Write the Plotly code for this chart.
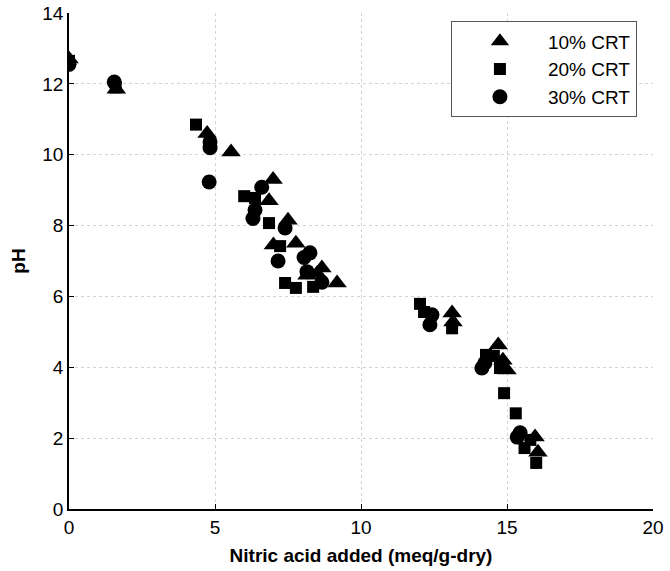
import plotly.graph_objects as go

# Data (x: nitric acid added meq/g-dry, y: pH)
x_10 = [0.0, 1.62, 4.73, 5.55, 6.99, 6.85, 7.5, 7.0, 7.77, 8.66, 8.5, 8.15, 9.18, 13.12, 13.15, 14.7, 14.86, 15.0, 15.96, 16.06]
y_10 = [12.7, 11.85, 10.6, 10.08, 9.3, 8.7, 8.15, 7.45, 7.5, 6.8, 6.65, 6.6, 6.38, 5.53, 5.28, 4.63, 4.2, 3.92, 2.03, 1.6]

x_20 = [0.0, 1.6, 4.35, 6.0, 6.37, 6.85, 7.23, 7.4, 7.77, 8.36, 12.02, 12.16, 13.12, 14.28, 14.55, 14.76, 14.9, 15.3, 15.8, 15.6, 16.0]
y_20 = [12.65, 11.9, 10.85, 8.83, 8.78, 8.07, 7.42, 6.38, 6.24, 6.27, 5.79, 5.56, 5.1, 4.35, 4.32, 3.98, 3.27, 2.7, 1.95, 1.72, 1.3]

x_30 = [0.0, 1.55, 4.83, 4.83, 4.8, 6.6, 6.37, 6.3, 7.4, 7.16, 8.25, 8.05, 8.15, 8.66, 12.43, 12.36, 14.14, 14.24, 15.45, 15.35]
y_30 = [12.55, 12.05, 10.36, 10.2, 9.23, 9.08, 8.44, 8.2, 7.93, 7.0, 7.23, 7.1, 6.7, 6.4, 5.48, 5.2, 3.98, 4.12, 2.15, 2.03]

names = ["10% CRT", "20% CRT", "30% CRT"]

FONT = "Liberation Sans, Arial"

fig = go.Figure()
fig.add_trace(go.Scatter(x=x_10, y=y_10, mode="markers", name=names[0],
                         marker=dict(symbol="triangle-up", size=17, color="black")))
fig.add_trace(go.Scatter(x=x_20, y=y_20, mode="markers", name=names[1],
                         marker=dict(symbol="square", size=12, color="black")))
fig.add_trace(go.Scatter(x=x_30, y=y_30, mode="markers", name=names[2],
                         marker=dict(symbol="circle", size=15, color="black")))

axis_common = dict(
    showgrid=True, gridcolor="#d4d4d4", griddash="dot", gridwidth=1,
    showline=True, linecolor="black", linewidth=1.5,
    ticks="inside", ticklen=5, tickcolor="black",
    tickfont=dict(family=FONT, size=19, color="black"),
    zeroline=False, mirror=False, automargin=False,
)

fig.update_layout(
    width=670, height=571,
    margin=dict(l=69, r=17, t=13, b=62),
    plot_bgcolor="white", paper_bgcolor="white",
    showlegend=True,
    legend=dict(x=0.654, y=0.983, xanchor="left", yanchor="top",
                bgcolor="white", bordercolor="#555555", borderwidth=1,
                font=dict(family=FONT, size=19, color="black"),
                itemwidth=86, tracegroupgap=0),
    xaxis=dict(range=[0, 20], tickvals=[0, 5, 10, 15, 20],
               title=dict(text="<b>Nitric acid added (meq/g-dry)</b>", standoff=12,
                          font=dict(family=FONT, size=19, color="black")),
               **axis_common),
    yaxis=dict(range=[0, 14], tickvals=[0, 2, 4, 6, 8, 10, 12, 14],
               title=dict(text="<b>pH</b>", standoff=12,
                          font=dict(family=FONT, size=19, color="black")),
               **axis_common),
)

fig.write_html("out.html")
